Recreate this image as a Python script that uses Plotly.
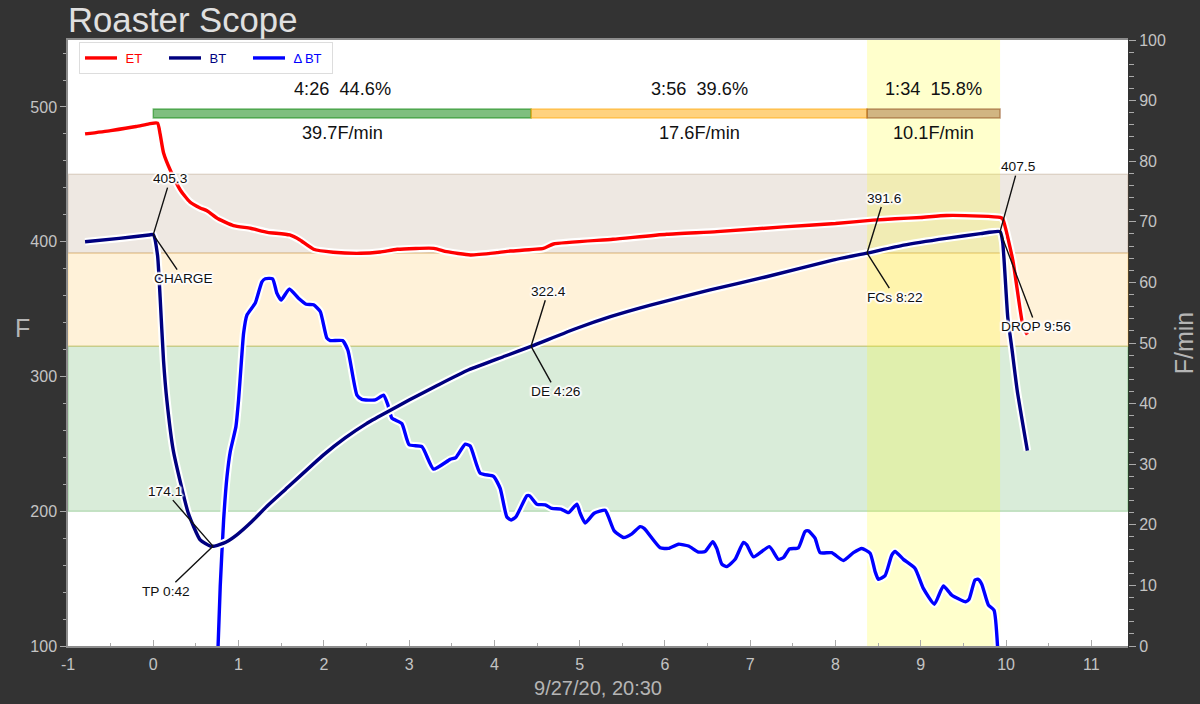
import plotly.graph_objects as go

et_t = [-0.8,-0.5,-0.2,-0.05,0.05,0.08,0.12,0.2,0.32,0.43,0.55,0.63,0.76,0.94,1.14,1.34,1.6,1.72,1.88,2.11,2.43,2.66,2.86,3.29,3.44,3.72,4.03,4.19,4.575,4.693,5.39,6.02,6.61,7.39,8.0,8.44,8.7,9.0,9.3,9.7,9.93,9.96,10.08,10.2,10.25]
et_v = [480,482.5,485.5,487.5,488,480,466,453,438,429.5,425,423,417,412,410,407,405,401.3,394.4,392.2,391.4,392.4,394.4,395.1,392.6,390.2,391.9,393.1,395,398.3,401.8,405.5,407.5,411,413.5,416,417,418,419.5,419,418,417,386,337,331]

bt_t = [-0.8,-0.4,-0.05,0.0,0.05,0.08,0.12,0.16,0.235,0.41,0.55,0.67,0.72,0.85,0.98,1.15,1.33,1.547,2.0,2.25,2.5,2.743,3.0,3.34,3.7,4.127,4.43,4.967,5.36,5.83,6.53,7.19,7.98,8.37,8.8,9.3,9.7,9.93,9.96,10.02,10.07,10.13,10.25]
bt_v = [400,402.5,405,405.3,390,359,312,282,245,198.7,178.7,174.2,174.1,177,182.5,192,203.5,216,242,254.4,265,273.6,282.5,293.7,305,315.2,322.4,335.8,344.4,353,364.2,374,386.5,391.6,397.5,402.5,406,407.5,400,344,320,290,245]

ror_t = [0.76,0.785,0.825,0.864,0.903,0.969,1.0,1.032,1.059,1.098,1.196,1.274,1.313,1.399,1.45,1.5,1.594,1.703,1.794,1.879,1.958,2.036,2.075,2.219,2.282,2.388,2.446,2.603,2.7,2.751,2.798,2.915,3.001,3.15,3.286,3.482,3.548,3.658,3.716,3.834,3.99,4.068,4.146,4.197,4.252,4.381,4.412,4.498,4.596,4.674,4.78,4.869,4.967,5.006,5.065,5.17,5.299,5.338,5.405,5.514,5.612,5.709,5.756,5.944,6.041,6.158,6.276,6.393,6.471,6.561,6.608,6.667,6.725,6.823,6.92,6.96,7.038,7.225,7.33,7.39,7.46,7.565,7.643,7.682,7.76,7.819,7.956,8.093,8.21,8.308,8.406,8.464,8.503,8.581,8.66,8.699,8.796,8.933,9.03,9.16,9.265,9.363,9.527,9.566,9.636,9.675,9.715,9.792,9.859,9.9]
ror_v = [0,9.8,20.8,27.9,32.1,36.2,40.6,46.7,51.6,54.6,56.6,60.1,60.6,60.6,58.2,57.1,58.9,57.4,56.4,56.3,55.2,50.8,50.4,50.4,48.8,41.4,40.7,40.6,41.4,39.8,37.6,36.7,33.2,32.9,29.2,30.8,31.1,33.3,33.0,28.5,28.0,26.0,21.3,20.8,21.3,24.8,24.8,23.4,23.3,22.7,22.6,22.0,23.4,21.9,20.3,21.9,22.4,21.3,19.0,17.9,18.5,19.7,19.4,16.2,16.1,16.8,16.5,15.5,15.6,17.2,16.1,13.5,13.1,14.3,17.1,16.7,14.7,16.4,14.3,14.6,16.0,16.2,18.9,19.0,17.8,15.4,15.4,14.1,15.4,16.1,15.3,12.3,11.0,11.6,15.0,15.6,14.3,12.8,9.5,6.9,9.9,8.4,7.3,7.7,10.9,11.0,10.2,6.8,5.9,0]

charge_t, de_t, fcs_t, drop_t, tp_t = 0.0, 4.43, 8.37, 9.93, 0.7
charge_v, de_v, fcs_v, drop_v, tp_v = 405.3, 322.4, 391.6, 407.5, 174.1
band_edges = [200, 322.4, 391.6, 450]
phase_labels = ["4:26  44.6%", "3:56  39.6%", "1:34  15.8%"]
phase_rates = ["39.7F/min", "17.6F/min", "10.1F/min"]
x_ticks = [-1, 0, 1, 2, 3, 4, 5, 6, 7, 8, 9, 10, 11]
x_tick_text = ["-1", "0", "1", "2", "3", "4", "5", "6", "7", "8", "9", "10", "11"]

FONT = "Liberation Sans"
GREY = "#c4c4c4"
AXIS = "#8c8c8c"
F_RANGE = [100, 549.7]

def to_primary(f):
    """Temperature -> position on the primary (right) axis, so the bands sit beneath every trace."""
    return (f - F_RANGE[0]) / (F_RANGE[1] - F_RANGE[0]) * 100

def pair(t, v, color, name, axis):
    return [
        go.Scatter(x=t, y=v, yaxis=axis, mode="lines", showlegend=False, hoverinfo="skip",
                   line=dict(color="white", width=7.6, shape="spline", smoothing=0.5)),
        go.Scatter(x=t, y=v, yaxis=axis, mode="lines", name=f'<span style="color:{color}">\u00a0{name}</span>',
                   line=dict(color=color, width=3.4, shape="spline", smoothing=0.5)),
    ]

fig = go.Figure()
fig.add_traces(pair(ror_t, ror_v, "#0000ff", "Δ\u2009BT", "y"))
fig.add_traces(pair(et_t, et_v, "#ff0000", "ET", "y2") + pair(bt_t, bt_v, "#00007f", "BT", "y2"))
fig.data[1].legendrank = 3
fig.data[3].legendrank = 1
fig.data[5].legendrank = 2

shapes = []
for (lo, hi, rgb) in [(band_edges[0], band_edges[1], "0,128,0"),
                      (band_edges[1], band_edges[2], "255,165,0"),
                      (band_edges[2], band_edges[3], "142,102,62")]:
    shapes.append(dict(type="rect", xref="paper", x0=0, x1=1, yref="y", y0=to_primary(lo), y1=to_primary(hi), layer="below",
                       fillcolor=f"rgba({rgb},0.15)", line=dict(color=f"rgba({rgb},0.2)", width=1.5)))
shapes.append(dict(type="rect", xref="x", x0=fcs_t, x1=drop_t, yref="y", y0=0, y1=100, layer="below",
                   fillcolor="rgba(255,255,0,0.2)", line=dict(width=0)))
edges = [charge_t, de_t, fcs_t, drop_t]
for i, rgb in enumerate(["0,128,0", "255,165,0", "139,69,19"]):
    shapes.append(dict(type="rect", xref="x", x0=edges[i], x1=edges[i+1], yref="y2", y0=491.8, y1=498.5,
                       layer="above", fillcolor=f"rgba({rgb},0.5)" if i < 2 else f"rgba({rgb},0.4)",
                       line=dict(color=f"rgba({rgb},0.5)", width=1.5)))

ann = []
for i in range(3):
    mid = (edges[i] + edges[i+1]) / 2
    ann.append(dict(x=mid, y=513, xref="x", yref="y2", text=phase_labels[i], showarrow=False,
                    font=dict(family=FONT, size=18.2, color="#111")))
    ann.append(dict(x=mid, y=480.7, xref="x", yref="y2", text=phase_rates[i], showarrow=False,
                    font=dict(family=FONT, size=18.2, color="#111")))

halo = ",".join(f"{a}px {b}px 1.5px white" for a, b in [(1,0),(-1,0),(0,1),(0,-1),(1,1),(-1,-1),(1,-1),(-1,1),(2,0),(-2,0),(0,2),(0,-2)])
def mark(x, y, text, ax, ay):
    return dict(x=x, y=y, xref="x", yref="y2", text=text, ax=ax, ay=ay, axref="pixel", ayref="pixel",
                showarrow=True, arrowhead=0, arrowwidth=1.4, arrowcolor="#111", standoff=0,
                font=dict(family=FONT, size=13.7, color="#111", shadow=halo))
ann += [
    mark(charge_t, charge_v, f"{charge_v}", 17, -56),
    mark(charge_t, charge_v, "CHARGE", 30, 44),
    mark(tp_t, tp_v, f"{tp_v}", -48, -55),
    mark(tp_t, tp_v, "TP 0:42", -47, 45),
    mark(de_t, de_v, f"{de_v}", 17, -55),
    mark(de_t, de_v, "DE 4:26", 25, 45),
    mark(fcs_t, fcs_v, f"{fcs_v}", 17, -55),
    mark(fcs_t, fcs_v, "FCs 8:22", 28, 44),
    mark(drop_t, drop_v, f"{drop_v}", 18, -65),
    mark(drop_t, drop_v, "DROP 9:56", 36, 95),
]
ann += [
    dict(x=(13-68)/1060, y=(646-328)/606, xref="paper", yref="paper", text="F", showarrow=False,
         font=dict(family=FONT, size=25, color="#b5b5b5")),
]

fig.update_layout(
    width=1200, height=704, autosize=False,
    margin=dict(l=68, r=72, t=40, b=58, autoexpand=False),
    paper_bgcolor="#333333", plot_bgcolor="white",
    font=dict(family=FONT, color=GREY, size=15),
    title=dict(text="Roaster Scope", x=68/1200, xanchor="left", y=1-20/704, yanchor="middle", yref="container",
               font=dict(family=FONT, size=34.7, color="#e0e0e0")),
    xaxis=dict(range=[-1, 11.43], tickmode="array", tickvals=x_ticks, ticktext=x_tick_text,
               ticks="inside", ticklen=6, tickwidth=1, tickcolor="#aaaaaa", ticklabelstandoff=3,
               minor=dict(dtick=0.5, tick0=-1, ticks="inside", ticklen=3.5, tickcolor="#aaaaaa"),
               showgrid=False, zeroline=False, showline=True, mirror=True, linecolor=AXIS, linewidth=1.5,
               title=dict(text="9/27/20, 20:30", font=dict(size=20, color="#b5b5b5"), standoff=9),
               tickfont=dict(size=16, color=GREY)),
    yaxis=dict(range=[0, 100], side="right", dtick=10, tick0=0, ticks="outside", ticklen=7, tickwidth=1,
               tickcolor="#aaaaaa", minor=dict(dtick=2, ticks="outside", ticklen=4.5, tickcolor="#aaaaaa"),
               showgrid=False, zeroline=False, showline=False,
               title=dict(text="F/min", font=dict(size=25, color="#b5b5b5"), standoff=10),
               tickfont=dict(size=16, color=GREY)),
    yaxis2=dict(range=F_RANGE, overlaying="y", side="left", tick0=100, dtick=100, ticks="outside", ticklen=6,
                tickwidth=1, tickcolor="#aaaaaa", minor=dict(dtick=20, ticks="outside", ticklen=3.5, tickcolor="#aaaaaa"),
                showgrid=False, zeroline=False, showline=True, linecolor=AXIS, linewidth=1.5,
                tickfont=dict(size=16, color=GREY)),
    legend=dict(orientation="h", x=11/1060, xref="paper", y=1-2/606, yref="paper", xanchor="left", yanchor="top",
                bgcolor="white", bordercolor="#dddddd", borderwidth=1, font=dict(family=FONT, size=13),
                entrywidth=37, entrywidthmode="pixels", itemwidth=32),
    shapes=shapes, annotations=ann,
)
fig.write_html("out.html", config=dict(displayModeBar=False),
               post_script="document.body.style.margin='0';document.documentElement.style.overflow='hidden';")
